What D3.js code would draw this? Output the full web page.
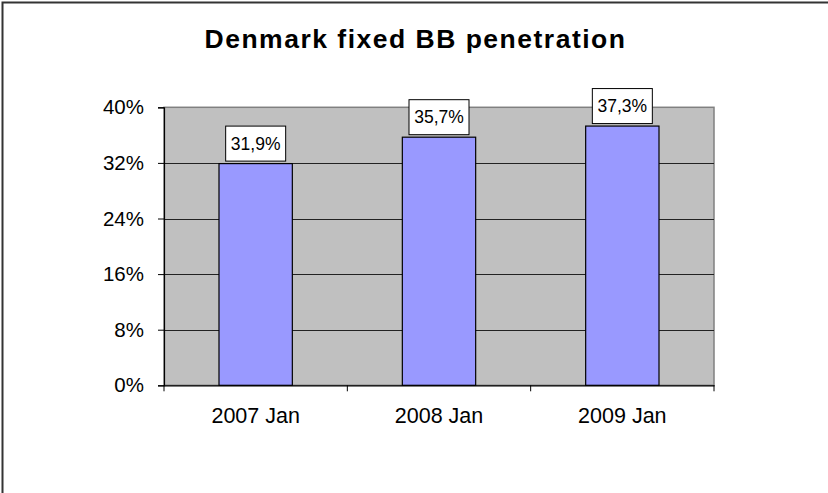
<!DOCTYPE html>
<html><head><meta charset="utf-8">
<script src="https://cdn.jsdelivr.net/npm/d3@7"></script>
<style>body{margin:0;background:#fff}svg{display:block}text{font-family:"Liberation Sans",Arial,sans-serif}</style>
</head><body>
<svg id="c" width="828" height="493"></svg>
<script>
const title = "Denmark fixed BB penetration";
const categories = ["2007 Jan", "2008 Jan", "2009 Jan"];
const values = [31.9, 35.7, 37.3];
const valueLabels = ["31,9%", "35,7%", "37,3%"];
const yTicks = [0, 8, 16, 24, 32, 40];

const svg = d3.select("#c");
const m = {left: 164, right: 714, top: 107.3, bottom: 385.3};

svg.append("rect").attr("x", 2.5).attr("y", 2.5).attr("width", 1000).attr("height", 1000)
  .attr("fill", "#fff").attr("stroke", "#333").attr("stroke-width", 2);

const x = d3.scaleBand().domain(categories).range([m.left, m.right]).paddingInner(0.6).paddingOuter(0.3);
const xb = d3.scaleBand().domain(categories).range([m.left, m.right]);
const y = d3.scaleLinear().domain([0, 40]).range([m.bottom, m.top]);

// plot area
svg.append("rect").attr("x", m.left).attr("y", m.top).attr("width", m.right - m.left).attr("height", m.bottom - m.top)
  .attr("fill", "#C0C0C0").attr("stroke", "#808080").attr("stroke-width", 1.5);

// gridlines
svg.append("g").selectAll("line").data(yTicks.filter(d => d > 0 && d < 40)).join("line")
  .attr("x1", m.left).attr("x2", m.right)
  .attr("y1", d => Math.round(y(d)) + 0.5).attr("y2", d => Math.round(y(d)) + 0.5)
  .attr("stroke", "#222").attr("stroke-width", 1);

// bars
svg.append("g").selectAll("rect").data(values).join("rect")
  .attr("x", (d, i) => x(categories[i])).attr("width", x.bandwidth())
  .attr("y", d => y(d)).attr("height", d => y(0) - y(d))
  .attr("fill", "#9999FF").attr("stroke", "#000").attr("stroke-width", 1.2);

// y axis
const yAxis = svg.append("g").attr("transform", `translate(${m.left},0)`)
  .call(d3.axisLeft(y).tickValues(yTicks).tickFormat(d => d + "%").tickSize(6).tickPadding(14));
yAxis.select(".domain").attr("stroke", "#000").attr("stroke-width", 1.2);
yAxis.selectAll(".tick line").attr("stroke", "#000");
yAxis.selectAll("text").attr("font-size", 20.5).attr("fill", "#000")
  .attr("font-family", '"Liberation Sans",Arial,sans-serif');

// x axis
const xAxis = svg.append("g").attr("transform", `translate(0,${m.bottom})`)
  .call(d3.axisBottom(xb).tickSize(0).tickPadding(22));
xAxis.select(".domain").attr("stroke", "#000").attr("stroke-width", 1.2);
xAxis.selectAll("text").attr("font-size", 21.5).attr("fill", "#000")
  .attr("font-family", '"Liberation Sans",Arial,sans-serif');
// boundary ticks
const bounds = categories.map(c => xb(c)).concat([m.right]);
svg.append("g").selectAll("line").data(bounds).join("line")
  .attr("x1", d => d).attr("x2", d => d).attr("y1", m.bottom).attr("y2", m.bottom + 6)
  .attr("stroke", "#000");

// value labels
const lg = svg.append("g").selectAll("g").data(values).join("g")
  .attr("transform", (d, i) => `translate(${x(categories[i]) + x.bandwidth() / 2},${y(d) - 2.5})`);
lg.append("rect").attr("x", -30).attr("y", -35).attr("width", 60).attr("height", 35)
  .attr("fill", "#fff").attr("stroke", "#000").attr("stroke-width", 1);
lg.append("text").attr("text-anchor", "middle").attr("y", -11.5).attr("font-size", 17.5)
  .text((d, i) => valueLabels[i]);

// title
svg.append("text").attr("x", 415.5).attr("y", 48).attr("text-anchor", "middle")
  .attr("font-size", 26.5).attr("font-weight", "bold").attr("letter-spacing", 1.5)
  .text(title);
</script>
</body></html>
